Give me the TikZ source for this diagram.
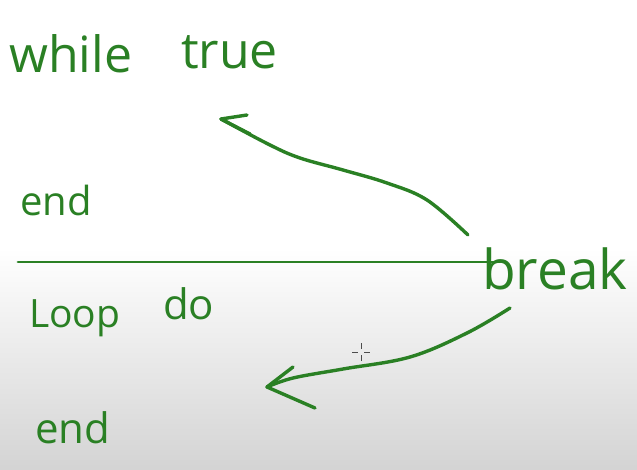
\documentclass[tikz,border=0pt]{standalone}
\usepackage{fontspec}
\setmainfont{Open Sans}
\definecolor{pen}{RGB}{42,128,36}
\tikzset{
  hand/.style={text=pen, inner sep=0pt, font=\fontsize{50}{50}\selectfont},
  handsm/.style={hand, font=\fontsize{40}{40}\selectfont},
  stroke/.style={draw=pen, line width=3.4pt, line cap=round, line join=round},
  cursor/.style={draw=black!70, line width=1pt}
}
\begin{document}
\begin{tikzpicture}[x=1pt,y=-1pt]
\useasboundingbox (0,0) rectangle (637,469);
\fill[white] (0,0) rectangle (637,469);
\shade[top color=white, bottom color=black!17] (0,248) rectangle (637,469);

% texts
\node[hand, anchor=base west] (while) at (9,72) {while};
\node[hand, anchor=base west] (true) at (181,68) {true};
\node[handsm, anchor=base west] (end1) at (20,215) {end};
\node[handsm, anchor=base west, font=\fontsize{39}{39}\selectfont] (loop) at (29,327) {Loop};
\node[handsm, anchor=base west, font=\fontsize{42}{42}\selectfont] (do) at (163,319) {do};
\node[handsm, anchor=base west, font=\fontsize{42}{42}\selectfont] (end2) at (35,443) {end};
\node[hand, anchor=base west, font=\fontsize{55}{55}\selectfont] (break) at (482,289) {break};

% divider line
\coordinate (lineL) at (18,262);
\coordinate (lineR) at (500,262);
\draw[stroke, line width=2.8pt] (lineL) -- (lineR);

% arrow 1: break -> while true
\coordinate (a1s) at (468,235);
\coordinate (a1t) at (221,119);
\draw[stroke] plot[smooth, tension=0.6] coordinates {(a1s) (427,200) (387,183) (343,170) (300,158) (270,145) (a1t)};
\draw[stroke] (a1t) -- (247,115);
\draw[stroke] (a1t) -- (250,134);

% arrow 2: break -> end
\coordinate (a2s) at (510,308);
\coordinate (a2t) at (267,387);
\draw[stroke] plot[smooth, tension=0.6] coordinates {(a2s) (467,333) (410,357) (343,369) (293,378) (a2t)};
\draw[stroke] (a2t) -- (293,367);
\draw[stroke] (a2t) -- (315,408);

% cursor
\coordinate (cur) at (361,352);
\draw[cursor] ([xshift=-9pt]cur) -- ([xshift=-3pt]cur);
\draw[cursor] ([xshift=3pt]cur) -- ([xshift=9pt]cur);
\draw[cursor] ([yshift=-9pt]cur) -- ([yshift=-3pt]cur);
\draw[cursor] ([yshift=3pt]cur) -- ([yshift=9pt]cur);
\end{tikzpicture}
\end{document}
